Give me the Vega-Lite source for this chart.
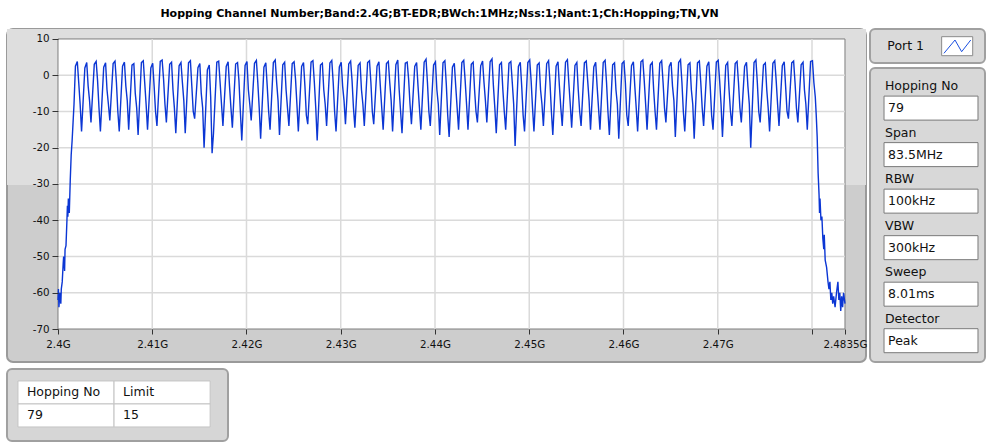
{
"$schema":"https://vega.github.io/schema/vega-lite/v6.json",
"autosize":{"type":"pad"},
"padding":{"left":6,"top":7,"right":0,"bottom":0},
"background":"white",
"config":{"view":{"stroke":null},"font":"DejaVu Sans"},
"spacing":5,
"vconcat":[
{"hconcat":[
 {"width":859,"height":333,
  "title":{"text":"Hopping Channel Number;Band:2.4G;BT-EDR;BWch:1MHz;Nss:1;Nant:1;Ch:Hopping;TN,VN","font":"DejaVu Sans","fontSize":11,"fontWeight":"bold","color":"#000","anchor":"middle","offset":-1,"baseline":"bottom","dx":3},
  "view":{"fill":"#cdcdcd","stroke":"#9a9a9a","strokeWidth":2,"cornerRadius":6},
  "layer":[
   {"data":{"values":[{}]},"mark":{"type":"rect","fill":"#dedede"},
    "encoding":{"x":{"datum":2394.59,"type":"quantitative","scale":{"domain":[2394.59,2485.73],"nice":false,"zero":false},
      "axis":{"values":[2400,2410,2420,2430,2440,2450,2460,2470,2480,2483.5],"labelExpr":"datum.value == 2480 ? '' : (datum.value/1000) + 'G'","orient":"bottom","offset":-33,"domain":false,"grid":false,"ticks":true,"tickSize":5,"tickColor":"#333","labelFont":"DejaVu Sans","labelFontSize":10.3,"labelColor":"#111","labelPadding":5,"title":null,"labelOverlap":false,"labelFlush":false,"zindex":2}},
     "x2":{"datum":2485.73},
     "y":{"datum":12.75,"type":"quantitative","scale":{"domain":[-79.1,12.75],"nice":false,"zero":false},
      "axis":{"values":[-70,-60,-50,-40,-30,-20,-10,0,10],"labelExpr":"'' + datum.value","orient":"left","offset":-51,"domain":false,"grid":false,"ticks":true,"tickSize":6,"tickColor":"#333","labelFont":"DejaVu Sans","labelFontSize":10.3,"labelColor":"#111","labelPadding":3,"title":null,"labelOverlap":false,"labelFlush":false,"zindex":2}},
     "y2":{"datum":-30.3}}},
   {"data":{"values":[{}]},"mark":{"type":"rect","fill":"white","stroke":"#7e7e7e","strokeWidth":1},
    "encoding":{"x":{"datum":2400,"type":"quantitative",
      "axis":{"values":[2400,2410,2420,2430,2440,2450,2460,2470,2480,2483.5],"labelExpr":"datum.value == 2480 ? '' : (datum.value/1000) + 'G'","orient":"bottom","offset":-33,"domain":false,"grid":false,"ticks":true,"tickSize":5,"tickColor":"#333","labelFont":"DejaVu Sans","labelFontSize":10.3,"labelColor":"#111","labelPadding":5,"title":null,"labelOverlap":false,"labelFlush":false,"zindex":2}},
     "x2":{"datum":2483.5},
     "y":{"datum":10,"type":"quantitative",
      "axis":{"values":[-70,-60,-50,-40,-30,-20,-10,0,10],"labelExpr":"'' + datum.value","orient":"left","offset":-51,"domain":false,"grid":false,"ticks":true,"tickSize":6,"tickColor":"#333","labelFont":"DejaVu Sans","labelFontSize":10.3,"labelColor":"#111","labelPadding":3,"title":null,"labelOverlap":false,"labelFlush":false,"zindex":2}},
     "y2":{"datum":-70}}},
   {"data":{"values":[{"g":2410},{"g":2420},{"g":2430},{"g":2440},{"g":2450},{"g":2460},{"g":2470},{"g":2480}]},"mark":{"type":"rule","color":"#dadada","strokeWidth":1.5},
    "encoding":{"x":{"field":"g","type":"quantitative",
      "axis":{"values":[2400,2410,2420,2430,2440,2450,2460,2470,2480,2483.5],"labelExpr":"datum.value == 2480 ? '' : (datum.value/1000) + 'G'","orient":"bottom","offset":-33,"domain":false,"grid":false,"ticks":true,"tickSize":5,"tickColor":"#333","labelFont":"DejaVu Sans","labelFontSize":10.3,"labelColor":"#111","labelPadding":5,"title":null,"labelOverlap":false,"labelFlush":false,"zindex":2}},
     "y":{"datum":10,"type":"quantitative",
      "axis":{"values":[-70,-60,-50,-40,-30,-20,-10,0,10],"labelExpr":"'' + datum.value","orient":"left","offset":-51,"domain":false,"grid":false,"ticks":true,"tickSize":6,"tickColor":"#333","labelFont":"DejaVu Sans","labelFontSize":10.3,"labelColor":"#111","labelPadding":3,"title":null,"labelOverlap":false,"labelFlush":false,"zindex":2}},
     "y2":{"datum":-70}}},
   {"data":{"values":[{"g":-60},{"g":-50},{"g":-40},{"g":-30},{"g":-20},{"g":-10},{"g":0}]},"mark":{"type":"rule","color":"#dadada","strokeWidth":1.5},
    "encoding":{"y":{"field":"g","type":"quantitative",
      "axis":{"values":[-70,-60,-50,-40,-30,-20,-10,0,10],"labelExpr":"'' + datum.value","orient":"left","offset":-51,"domain":false,"grid":false,"ticks":true,"tickSize":6,"tickColor":"#333","labelFont":"DejaVu Sans","labelFontSize":10.3,"labelColor":"#111","labelPadding":3,"title":null,"labelOverlap":false,"labelFlush":false,"zindex":2}},
     "x":{"datum":2400,"type":"quantitative",
      "axis":{"values":[2400,2410,2420,2430,2440,2450,2460,2470,2480,2483.5],"labelExpr":"datum.value == 2480 ? '' : (datum.value/1000) + 'G'","orient":"bottom","offset":-33,"domain":false,"grid":false,"ticks":true,"tickSize":5,"tickColor":"#333","labelFont":"DejaVu Sans","labelFontSize":10.3,"labelColor":"#111","labelPadding":5,"title":null,"labelOverlap":false,"labelFlush":false,"zindex":2}},
     "x2":{"datum":2483.5}}},
   {"data":{"values":[
{"f":2400,"p":-62},{"f":2400.05,"p":-59},{"f":2400.1,"p":-64},{"f":2400.2,"p":-60},{"f":2400.3,"p":-63},{"f":2400.35,"p":-59},{"f":2400.45,"p":-57},{"f":2400.55,"p":-52},{"f":2400.6,"p":-50},{"f":2400.7,"p":-54},{"f":2400.75,"p":-48},{"f":2400.85,"p":-47},{"f":2400.95,"p":-40},{"f":2401,"p":-36},{"f":2401.05,"p":-39},{"f":2401.1,"p":-34},{"f":2401.2,"p":-38},{"f":2401.3,"p":-29},{"f":2401.4,"p":-22},{"f":2401.5,"p":-18},{"f":2401.6,"p":-13},{"f":2401.7,"p":-8},
{"f":2401.85,"p":2.5},{"f":2402.05,"p":3.8},{"f":2402.2,"p":-2},{"f":2402.35,"p":-8},
{"f":2402.5,"p":-15.5},{"f":2402.85,"p":2.0},{"f":2403.05,"p":3.5},{"f":2403.2,"p":-3},{"f":2403.35,"p":-7},
{"f":2403.5,"p":-13},{"f":2403.85,"p":3.0},{"f":2404.05,"p":3.8},{"f":2404.2,"p":-1.5},{"f":2404.35,"p":-9},
{"f":2404.5,"p":-15.5},{"f":2404.85,"p":2.2},{"f":2405.05,"p":3.4},{"f":2405.2,"p":-4},{"f":2405.35,"p":-8},
{"f":2405.5,"p":-12.5},{"f":2405.85,"p":3.2},{"f":2406.05,"p":3.9},{"f":2406.2,"p":-2},{"f":2406.35,"p":-10},
{"f":2406.5,"p":-15.5},{"f":2406.85,"p":2.5},{"f":2407.05,"p":3.6},{"f":2407.2,"p":-3},{"f":2407.35,"p":-7},
{"f":2407.5,"p":-15},{"f":2407.85,"p":2.8},{"f":2408.05,"p":3.2},{"f":2408.2,"p":-5},{"f":2408.35,"p":-9},
{"f":2408.5,"p":-16.5},{"f":2408.85,"p":3.5},{"f":2409.05,"p":4.0},{"f":2409.2,"p":-2},{"f":2409.35,"p":-8},
{"f":2409.5,"p":-15},{"f":2409.85,"p":2.0},{"f":2410.05,"p":3.3},{"f":2410.2,"p":-3},{"f":2410.35,"p":-10},
{"f":2410.5,"p":-14},{"f":2410.85,"p":3.8},{"f":2411.05,"p":4.2},{"f":2411.2,"p":-1},{"f":2411.35,"p":-8},
{"f":2411.5,"p":-13},{"f":2411.85,"p":3.0},{"f":2412.05,"p":3.6},{"f":2412.2,"p":-4},{"f":2412.35,"p":-9},
{"f":2412.5,"p":-16},{"f":2412.85,"p":2.6},{"f":2413.05,"p":3.5},{"f":2413.2,"p":-2},{"f":2413.35,"p":-7},
{"f":2413.5,"p":-16},{"f":2413.85,"p":3.4},{"f":2414.05,"p":4.0},{"f":2414.2,"p":-3},{"f":2414.35,"p":-10},
{"f":2414.5,"p":-12},{"f":2414.85,"p":2.1},{"f":2415.05,"p":3.2},{"f":2415.2,"p":-5},{"f":2415.35,"p":-9},
{"f":2415.5,"p":-20},{"f":2415.85,"p":1.5},{"f":2416.05,"p":2.8},{"f":2416.2,"p":-6},{"f":2416.35,"p":-21.5},
{"f":2416.5,"p":-16},{"f":2416.85,"p":3.6},{"f":2417.05,"p":3.9},{"f":2417.2,"p":-2},{"f":2417.35,"p":-8},
{"f":2417.5,"p":-14},{"f":2417.85,"p":2.4},{"f":2418.05,"p":3.7},{"f":2418.2,"p":-3},{"f":2418.35,"p":-9},
{"f":2418.5,"p":-14.5},{"f":2418.85,"p":3.1},{"f":2419.05,"p":3.5},{"f":2419.2,"p":-1.5},{"f":2419.35,"p":-10},
{"f":2419.5,"p":-18},{"f":2419.85,"p":2.7},{"f":2420.05,"p":3.8},{"f":2420.2,"p":-4},{"f":2420.35,"p":-8},
{"f":2420.5,"p":-12.5},{"f":2420.85,"p":3.3},{"f":2421.05,"p":4.1},{"f":2421.2,"p":-2},{"f":2421.35,"p":-9},
{"f":2421.5,"p":-17.5},{"f":2421.85,"p":2.2},{"f":2422.05,"p":3.4},{"f":2422.2,"p":-3},{"f":2422.35,"p":-10},
{"f":2422.5,"p":-15},{"f":2422.85,"p":3.5},{"f":2423.05,"p":4.2},{"f":2423.2,"p":-2},{"f":2423.35,"p":-7},
{"f":2423.5,"p":-16.5},{"f":2423.85,"p":2.9},{"f":2424.05,"p":3.6},{"f":2424.2,"p":-4},{"f":2424.35,"p":-9},
{"f":2424.5,"p":-14},{"f":2424.85,"p":3.2},{"f":2425.05,"p":3.7},{"f":2425.2,"p":-1},{"f":2425.35,"p":-8},
{"f":2425.5,"p":-15.5},{"f":2425.85,"p":2.4},{"f":2426.05,"p":3.5},{"f":2426.2,"p":-3},{"f":2426.35,"p":-11},
{"f":2426.5,"p":-13.5},{"f":2426.85,"p":3.6},{"f":2427.05,"p":4.0},{"f":2427.2,"p":-2},{"f":2427.35,"p":-9},
{"f":2427.5,"p":-18},{"f":2427.85,"p":2.8},{"f":2428.05,"p":3.3},{"f":2428.2,"p":-4},{"f":2428.35,"p":-8},
{"f":2428.5,"p":-14},{"f":2428.85,"p":3.4},{"f":2429.05,"p":4.1},{"f":2429.2,"p":-2},{"f":2429.35,"p":-10},
{"f":2429.5,"p":-15.5},{"f":2429.85,"p":2.3},{"f":2430.05,"p":3.6},{"f":2430.2,"p":-3},{"f":2430.35,"p":-7},
{"f":2430.5,"p":-13.5},{"f":2430.85,"p":3.1},{"f":2431.05,"p":3.9},{"f":2431.2,"p":-1.5},{"f":2431.35,"p":-9},
{"f":2431.5,"p":-14.5},{"f":2431.85,"p":2.7},{"f":2432.05,"p":3.4},{"f":2432.2,"p":-4},{"f":2432.35,"p":-8},
{"f":2432.5,"p":-14},{"f":2432.85,"p":3.5},{"f":2433.05,"p":4.0},{"f":2433.2,"p":-2},{"f":2433.35,"p":-10},
{"f":2433.5,"p":-13.5},{"f":2433.85,"p":2.5},{"f":2434.05,"p":3.7},{"f":2434.2,"p":-3},{"f":2434.35,"p":-9},
{"f":2434.5,"p":-15},{"f":2434.85,"p":3.2},{"f":2435.05,"p":3.8},{"f":2435.2,"p":-2},{"f":2435.35,"p":-7},
{"f":2435.5,"p":-15.5},{"f":2435.85,"p":2.9},{"f":2436.05,"p":4.2},{"f":2436.2,"p":-4},{"f":2436.35,"p":-10},
{"f":2436.5,"p":-16},{"f":2436.85,"p":3.3},{"f":2437.05,"p":3.6},{"f":2437.2,"p":-1},{"f":2437.35,"p":-8},
{"f":2437.5,"p":-13.5},{"f":2437.85,"p":2.4},{"f":2438.05,"p":3.5},{"f":2438.2,"p":-3},{"f":2438.35,"p":-9},
{"f":2438.5,"p":-15},{"f":2438.85,"p":3.6},{"f":2439.05,"p":4.4},{"f":2439.2,"p":-2},{"f":2439.35,"p":-10},
{"f":2439.5,"p":-14},{"f":2439.85,"p":2.8},{"f":2440.05,"p":3.7},{"f":2440.2,"p":-4},{"f":2440.35,"p":-8},
{"f":2440.5,"p":-16.5},{"f":2440.85,"p":3.4},{"f":2441.05,"p":4.0},{"f":2441.2,"p":-2.5},{"f":2441.35,"p":-11},
{"f":2441.5,"p":-17},{"f":2441.85,"p":2.2},{"f":2442.05,"p":3.3},{"f":2442.2,"p":-3},{"f":2442.35,"p":-9},
{"f":2442.5,"p":-15},{"f":2442.85,"p":3.5},{"f":2443.05,"p":4.1},{"f":2443.2,"p":-1.5},{"f":2443.35,"p":-8},
{"f":2443.5,"p":-15},{"f":2443.85,"p":3.0},{"f":2444.05,"p":3.6},{"f":2444.2,"p":-4},{"f":2444.35,"p":-10},
{"f":2444.5,"p":-13},{"f":2444.85,"p":2.6},{"f":2445.05,"p":3.9},{"f":2445.2,"p":-2},{"f":2445.35,"p":-7},
{"f":2445.5,"p":-13},{"f":2445.85,"p":3.7},{"f":2446.05,"p":4.5},{"f":2446.2,"p":-3},{"f":2446.35,"p":-9},
{"f":2446.5,"p":-16},{"f":2446.85,"p":2.9},{"f":2447.05,"p":3.5},{"f":2447.2,"p":-4},{"f":2447.35,"p":-10},
{"f":2447.5,"p":-15},{"f":2447.85,"p":3.3},{"f":2448.05,"p":3.8},{"f":2448.2,"p":-2},{"f":2448.35,"p":-8},
{"f":2448.5,"p":-19.5},{"f":2448.85,"p":2.4},{"f":2449.05,"p":3.6},{"f":2449.2,"p":-3},{"f":2449.35,"p":-11},
{"f":2449.5,"p":-15.5},{"f":2449.85,"p":3.5},{"f":2450.05,"p":4.2},{"f":2450.2,"p":-1.5},{"f":2450.35,"p":-9},
{"f":2450.5,"p":-15.5},{"f":2450.85,"p":2.8},{"f":2451.05,"p":3.4},{"f":2451.2,"p":-4},{"f":2451.35,"p":-8},
{"f":2451.5,"p":-14},{"f":2451.85,"p":3.2},{"f":2452.05,"p":4.0},{"f":2452.2,"p":-2},{"f":2452.35,"p":-10},
{"f":2452.5,"p":-16.5},{"f":2452.85,"p":2.5},{"f":2453.05,"p":3.7},{"f":2453.2,"p":-3},{"f":2453.35,"p":-9},
{"f":2453.5,"p":-14},{"f":2453.85,"p":3.6},{"f":2454.05,"p":4.3},{"f":2454.2,"p":-2},{"f":2454.35,"p":-8},
{"f":2454.5,"p":-14.5},{"f":2454.85,"p":2.7},{"f":2455.05,"p":3.5},{"f":2455.2,"p":-4},{"f":2455.35,"p":-10},
{"f":2455.5,"p":-14},{"f":2455.85,"p":3.4},{"f":2456.05,"p":3.9},{"f":2456.2,"p":-1.5},{"f":2456.35,"p":-7},
{"f":2456.5,"p":-15},{"f":2456.85,"p":2.3},{"f":2457.05,"p":3.6},{"f":2457.2,"p":-3},{"f":2457.35,"p":-9},
{"f":2457.5,"p":-15},{"f":2457.85,"p":3.5},{"f":2458.05,"p":4.1},{"f":2458.2,"p":-2},{"f":2458.35,"p":-10},
{"f":2458.5,"p":-16.5},{"f":2458.85,"p":2.9},{"f":2459.05,"p":3.4},{"f":2459.2,"p":-4},{"f":2459.35,"p":-8},
{"f":2459.5,"p":-17.5},{"f":2459.85,"p":3.2},{"f":2460.05,"p":3.8},{"f":2460.2,"p":-2},{"f":2460.35,"p":-11},
{"f":2460.5,"p":-14},{"f":2460.85,"p":2.6},{"f":2461.05,"p":3.7},{"f":2461.2,"p":-3},{"f":2461.35,"p":-9},
{"f":2461.5,"p":-15.5},{"f":2461.85,"p":3.7},{"f":2462.05,"p":4.2},{"f":2462.2,"p":-1.5},{"f":2462.35,"p":-8},
{"f":2462.5,"p":-15},{"f":2462.85,"p":2.8},{"f":2463.05,"p":3.5},{"f":2463.2,"p":-4},{"f":2463.35,"p":-10},
{"f":2463.5,"p":-15},{"f":2463.85,"p":3.3},{"f":2464.05,"p":4.0},{"f":2464.2,"p":-2},{"f":2464.35,"p":-9},
{"f":2464.5,"p":-13},{"f":2464.85,"p":2.4},{"f":2465.05,"p":3.6},{"f":2465.2,"p":-3},{"f":2465.35,"p":-7},
{"f":2465.5,"p":-17},{"f":2465.85,"p":3.5},{"f":2466.05,"p":4.3},{"f":2466.2,"p":-2},{"f":2466.35,"p":-10},
{"f":2466.5,"p":-15.5},{"f":2466.85,"p":2.9},{"f":2467.05,"p":3.4},{"f":2467.2,"p":-4},{"f":2467.35,"p":-8},
{"f":2467.5,"p":-17.5},{"f":2467.85,"p":3.4},{"f":2468.05,"p":3.9},{"f":2468.2,"p":-2},{"f":2468.35,"p":-9},
{"f":2468.5,"p":-14},{"f":2468.85,"p":2.5},{"f":2469.05,"p":3.7},{"f":2469.2,"p":-3},{"f":2469.35,"p":-11},
{"f":2469.5,"p":-15},{"f":2469.85,"p":3.6},{"f":2470.05,"p":4.1},{"f":2470.2,"p":-1.5},{"f":2470.35,"p":-8},
{"f":2470.5,"p":-17},{"f":2470.85,"p":2.7},{"f":2471.05,"p":3.5},{"f":2471.2,"p":-4},{"f":2471.35,"p":-10},
{"f":2471.5,"p":-14},{"f":2471.85,"p":3.2},{"f":2472.05,"p":3.8},{"f":2472.2,"p":-2},{"f":2472.35,"p":-9},
{"f":2472.5,"p":-13},{"f":2472.85,"p":2.4},{"f":2473.05,"p":3.6},{"f":2473.2,"p":-3},{"f":2473.35,"p":-8},
{"f":2473.5,"p":-20},{"f":2473.85,"p":3.5},{"f":2474.05,"p":4.2},{"f":2474.2,"p":-2},{"f":2474.35,"p":-10},
{"f":2474.5,"p":-13},{"f":2474.85,"p":2.8},{"f":2475.05,"p":3.4},{"f":2475.2,"p":-4},{"f":2475.35,"p":-9},
{"f":2475.5,"p":-15.5},{"f":2475.85,"p":3.3},{"f":2476.05,"p":4.0},{"f":2476.2,"p":-1.5},{"f":2476.35,"p":-8},
{"f":2476.5,"p":-14},{"f":2476.85,"p":2.6},{"f":2477.05,"p":3.7},{"f":2477.2,"p":-3},{"f":2477.35,"p":-10},
{"f":2477.5,"p":-12},{"f":2477.85,"p":3.4},{"f":2478.05,"p":3.9},{"f":2478.2,"p":-2},{"f":2478.35,"p":-9},
{"f":2478.5,"p":-13},{"f":2478.85,"p":2.9},{"f":2479.05,"p":3.6},{"f":2479.2,"p":-4},{"f":2479.35,"p":-8},
{"f":2479.5,"p":-15},{"f":2479.85,"p":3.8},{"f":2480.05,"p":4.0},{"f":2480.2,"p":-2},
{"f":2480.35,"p":-6},{"f":2480.45,"p":-11},{"f":2480.55,"p":-17},{"f":2480.65,"p":-27},{"f":2480.75,"p":-33},{"f":2480.8,"p":-38},{"f":2480.85,"p":-34},{"f":2480.95,"p":-40},{"f":2481.05,"p":-39},{"f":2481.15,"p":-45},{"f":2481.25,"p":-48},{"f":2481.3,"p":-44},{"f":2481.4,"p":-51},{"f":2481.55,"p":-53},{"f":2481.7,"p":-57},{"f":2481.8,"p":-59},{"f":2481.9,"p":-57},{"f":2482,"p":-62},{"f":2482.1,"p":-60},{"f":2482.2,"p":-63},{"f":2482.3,"p":-61},{"f":2482.45,"p":-64},{"f":2482.6,"p":-60},{"f":2482.75,"p":-57},{"f":2482.85,"p":-62},{"f":2482.95,"p":-60},{"f":2483.05,"p":-65},{"f":2483.15,"p":-61},{"f":2483.25,"p":-64},{"f":2483.35,"p":-60},{"f":2483.5,"p":-63}
   ]},
   "mark":{"type":"line","color":"#0b36d4","strokeWidth":1.4},
   "encoding":{
    "x":{"field":"f","type":"quantitative",
      "axis":{"values":[2400,2410,2420,2430,2440,2450,2460,2470,2480,2483.5],"labelExpr":"datum.value == 2480 ? '' : (datum.value/1000) + 'G'","orient":"bottom","offset":-33,"domain":false,"grid":false,"ticks":true,"tickSize":5,"tickColor":"#333","labelFont":"DejaVu Sans","labelFontSize":10.3,"labelColor":"#111","labelPadding":5,"title":null,"labelOverlap":false,"labelFlush":false,"zindex":2}},
    "y":{"field":"p","type":"quantitative",
      "axis":{"values":[-70,-60,-50,-40,-30,-20,-10,0,10],"labelExpr":"'' + datum.value","orient":"left","offset":-51,"domain":false,"grid":false,"ticks":true,"tickSize":6,"tickColor":"#333","labelFont":"DejaVu Sans","labelFontSize":10.3,"labelColor":"#111","labelPadding":3,"title":null,"labelOverlap":false,"labelFlush":false,"zindex":2}}
   }}
  ]},
 {"vconcat":[
  {"width":115,"height":34,
   "view":{"fill":"#dadada","stroke":"#a0a0a0","strokeWidth":2,"cornerRadius":5},
   "layer":[
    {"data":{"values":[{"t":"Port 1"}]},"mark":{"type":"text","fontSize":12.5,"color":"#111","align":"center","baseline":"middle"},
     "encoding":{"x":{"datum":0.31,"type":"quantitative","scale":{"domain":[0,1],"nice":false,"zero":false},"axis":null},"y":{"datum":0.51,"type":"quantitative","scale":{"domain":[0,1],"nice":false,"zero":false},"axis":null},"text":{"field":"t"}}},
    {"data":{"values":[{}]},"mark":{"type":"rect","fill":"white","stroke":"#8a8a8a","strokeWidth":1},
     "encoding":{"x":{"datum":0.623,"type":"quantitative","axis":null},"x2":{"datum":0.893},"y":{"datum":0.215,"type":"quantitative","axis":null},"y2":{"datum":0.774}}},
    {"data":{"values":[{"ix":0.643,"iy":0.285},{"ix":0.739,"iy":0.676},{"ix":0.797,"iy":0.332},{"ix":0.876,"iy":0.676}]},"mark":{"type":"line","color":"#1a4fe0","strokeWidth":1},
     "encoding":{"x":{"field":"ix","type":"quantitative","axis":null},"y":{"field":"iy","type":"quantitative","axis":null}}}
   ]},
  {"width":115,"height":294,
   "view":{"fill":"#d8d8d8","stroke":"#a0a0a0","strokeWidth":2,"cornerRadius":5},
   "data":{"values":[{"k":"Hopping No","v":"79"},{"k":"Span","v":"83.5MHz"},{"k":"RBW","v":"100kHz"},{"k":"VBW","v":"300kHz"},{"k":"Sweep","v":"8.01ms"},{"k":"Detector","v":"Peak"}]},
   "layer":[
    {"mark":{"type":"rect","fill":"white","stroke":"#7a7a7a","strokeWidth":1,"height":24,"yOffset":9.4},
     "encoding":{"y":{"field":"k","type":"nominal","sort":null,"scale":{"paddingInner":0,"paddingOuter":0.16},"axis":null},"x":{"datum":0.122,"type":"quantitative","scale":{"domain":[0,1],"nice":false,"zero":false},"axis":null},"x2":{"datum":0.939}}},
    {"mark":{"type":"text","align":"left","baseline":"middle","fontSize":12.5,"color":"#111","yOffset":-12.6},
     "encoding":{"y":{"field":"k","type":"nominal","sort":null,"axis":null},"x":{"datum":0.13,"type":"quantitative","axis":null},"text":{"field":"k"}}},
    {"mark":{"type":"text","align":"left","baseline":"middle","fontSize":12.5,"color":"#111","yOffset":9.4},
     "encoding":{"y":{"field":"k","type":"nominal","sort":null,"axis":null},"x":{"datum":0.157,"type":"quantitative","axis":null},"text":{"field":"v"}}}
   ]}
 ],"spacing":5,"bounds":"flush"}
],"spacing":4,"bounds":"flush"},
{"width":221,"height":72,
 "view":{"fill":"#d6d6d6","stroke":"#a0a0a0","strokeWidth":2,"cornerRadius":5},
 "data":{"values":[{"r":"h","c":"a","t":"Hopping No"},{"r":"h","c":"b","t":"Limit"},{"r":"d","c":"a","t":"79"},{"r":"d","c":"b","t":"15"}]},
 "layer":[
  {"mark":{"type":"rect","fill":"white","stroke":"#c4c4c4","strokeWidth":1},
   "encoding":{"x":{"field":"c","type":"nominal","scale":{"paddingInner":0,"paddingOuter":0.15,"align":0.38},"axis":null},"y":{"field":"r","type":"nominal","sort":null,"scale":{"paddingInner":0,"paddingOuter":0.565,"align":0.46},"axis":null}}},
  {"mark":{"type":"text","align":"left","baseline":"middle","fontSize":12.5,"color":"#111","xOffset":9},
   "encoding":{"x":{"field":"c","type":"nominal","bandPosition":0,"axis":null},"y":{"field":"r","type":"nominal","sort":null,"axis":null},"text":{"field":"t"}}}
 ]}
]}
